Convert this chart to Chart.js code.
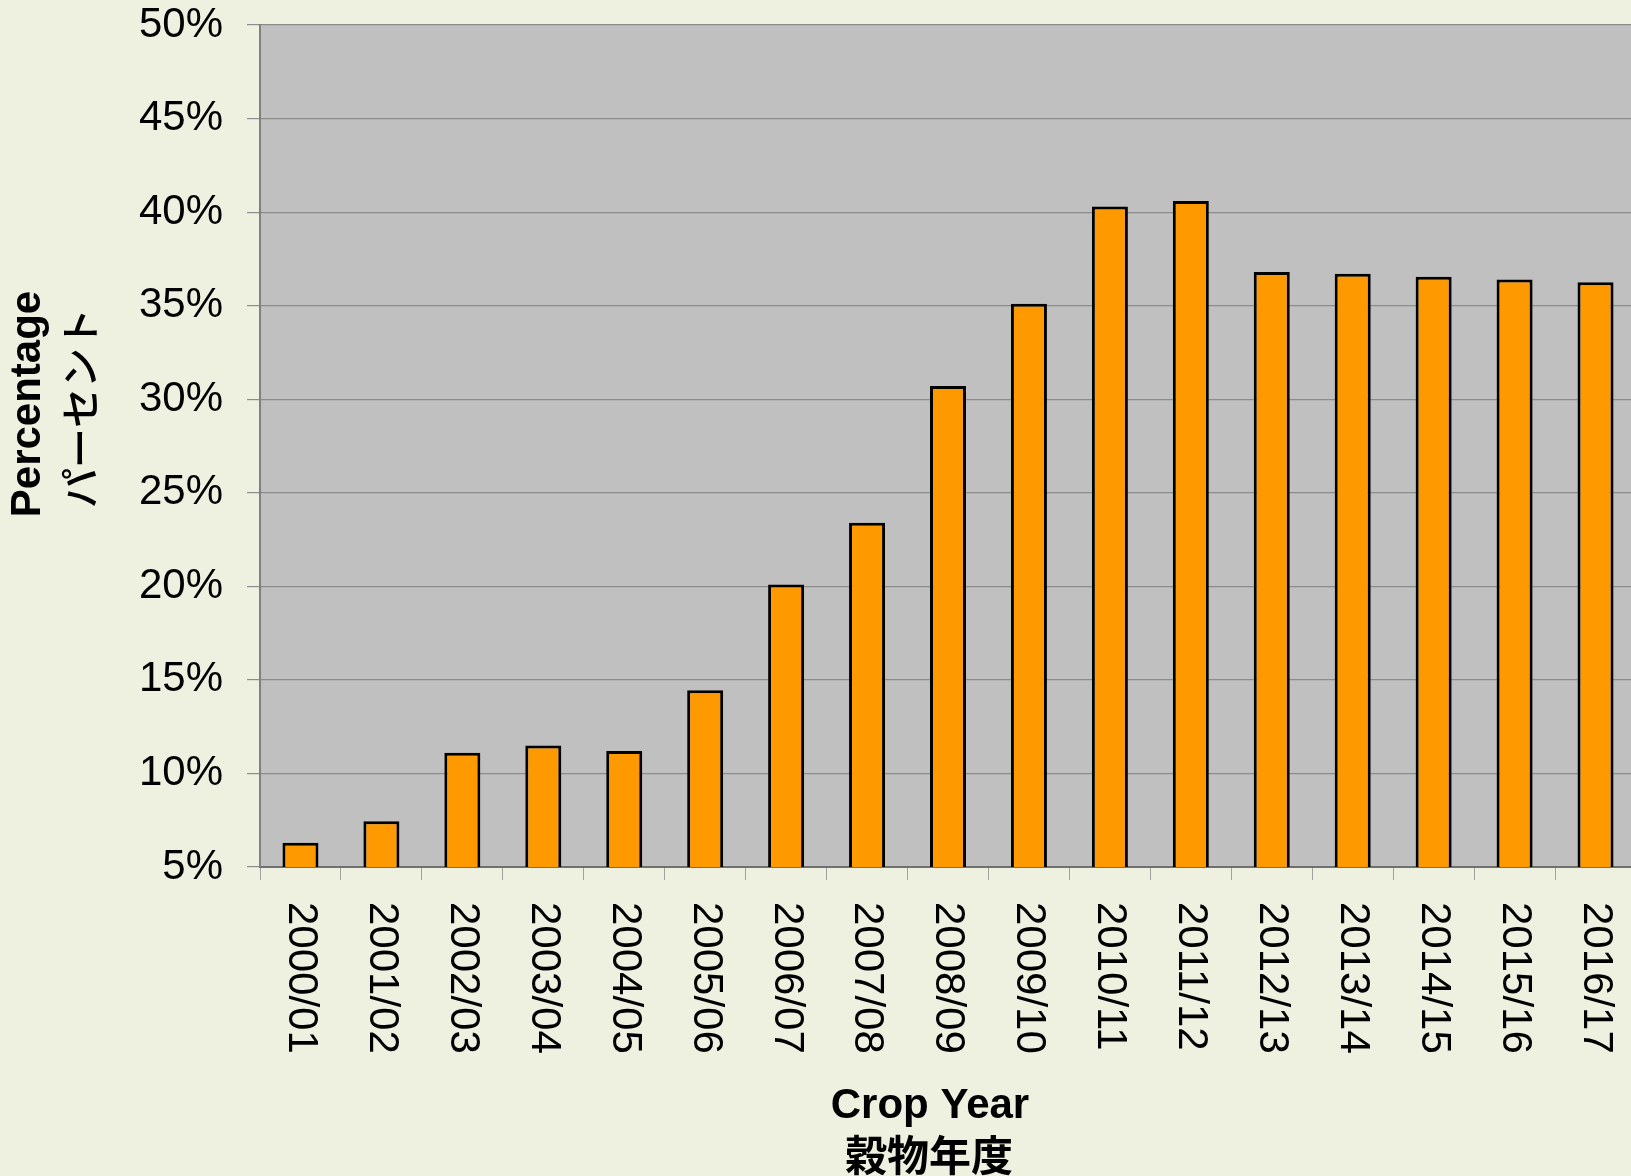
<!DOCTYPE html>
<html>
<head>
<meta charset="utf-8">
<script src="https://cdn.jsdelivr.net/npm/chart.js@4"></script>
<style>
  html, body { margin: 0; padding: 0; overflow: hidden; background: #EEF0E0; }
  canvas { display: block; }
</style>
</head>
<body>
<canvas id="myChart" width="1636" height="1176"></canvas>
<script>
const years = ["2000/01", "2001/02", "2002/03", "2003/04", "2004/05", "2005/06", "2006/07", "2007/08", "2008/09",
    "2009/10", "2010/11", "2011/12", "2012/13", "2013/14", "2014/15", "2015/16", "2016/17"];
const percentages = [6.3, 7.45, 11.1, 11.5, 11.2, 14.45, 20.1, 23.4, 30.7, 35.1, 40.3, 40.6, 36.8, 36.7, 36.55, 36.4, 36.25];
const yTicks = [5, 10, 15, 20, 25, 30, 35, 40, 45, 50];
const xTitle = ["Crop Year", "穀物年度"];
const yTitle = ["Percentage", "パーセント"];

const latin = "'Liberation Sans', Arial, sans-serif";
const cjk = "'Noto Sans CJK JP', sans-serif";

// fondo, etiquetas giradas y titulos
const extras = {
    id: "extras",
    beforeDraw(chart) {
        const { ctx, chartArea } = chart;
        ctx.save();
        ctx.fillStyle = "#EEF0E0";
        ctx.fillRect(0, 0, chart.width, chart.height);
        ctx.fillStyle = "#C0C0C0";
        ctx.fillRect(chartArea.left, chartArea.top, chartArea.right - chartArea.left, chartArea.bottom - chartArea.top);
        ctx.restore();
    },
    afterDraw(chart) {
        const { ctx } = chart;
        const x = chart.scales.x;
        ctx.save();
        ctx.fillStyle = "#000";

        ctx.font = "42px " + latin;
        ctx.textAlign = "left";
        ctx.textBaseline = "middle";
        years.forEach((label, i) => {
            ctx.save();
            ctx.translate(x.getPixelForValue(i), chart.chartArea.bottom + 35);
            ctx.rotate(Math.PI / 2);
            ctx.fillText(label, 0, 0);
            ctx.restore();
        });

        ctx.textAlign = "center";
        ctx.font = "bold 42px " + latin;
        ctx.textBaseline = "alphabetic";
        ctx.fillText(xTitle[0], 930, 1118);
        ctx.font = "bold 42px " + cjk;
        ctx.textBaseline = "middle";
        ctx.fillText(xTitle[1], 929, 1155);

        ctx.save();
        ctx.translate(28, 404);
        ctx.rotate(-Math.PI / 2);
        ctx.font = "bold 42px " + latin;
        ctx.fillText(yTitle[0], 0, 0);
        ctx.restore();

        ctx.save();
        ctx.translate(80, 408);
        ctx.rotate(-Math.PI / 2);
        ctx.font = "500 40px " + cjk;
        ctx.fillText(yTitle[1], 0, 0);
        ctx.restore();

        ctx.restore();
    }
};

const config = {
    type: "bar",
    data: {
        labels: years,
        datasets: [{
            data: percentages,
            backgroundColor: "#FF9900",
            borderColor: "#000000",
            borderWidth: 3,
            borderSkipped: false,
            barPercentage: 1,
            categoryPercentage: 0.445
        }]
    },
    options: {
        responsive: false,
        animation: false,
        devicePixelRatio: 1,
        layout: { padding: { left: 139, top: 25, right: 0, bottom: 0 } },
        plugins: {
            legend: { display: false },
            tooltip: { enabled: false }
        },
        scales: {
            x: {
                offset: true,
                ticks: { display: false },
                grid: {
                    offset: true,
                    drawOnChartArea: false,
                    drawTicks: true,
                    tickLength: 13,
                    tickColor: "#A0A0A0",
                    color: "#A0A0A0"
                },
                border: { color: "#707070", width: 2 },
                afterFit(scale) { scale.height = 309; }
            },
            y: {
                min: 5,
                max: 50,
                afterBuildTicks(scale) { scale.ticks = yTicks.map(v => ({ value: v })); },
                ticks: {
                    padding: 24,
                    color: "#000",
                    font: { family: latin, size: 42, lineHeight: 1 },
                    callback: v => v + "%"
                },
                grid: {
                    color: "#8C8C8C",
                    tickColor: "#8C8C8C",
                    tickLength: 13,
                    lineWidth: 1.2
                },
                border: { color: "#808080", width: 2 },
                afterFit(scale) {
                    scale.width = 121;
                    scale.paddingTop = 0;
                    scale.paddingBottom = 0;
                }
            }
        }
    },
    plugins: [extras]
};

new Chart(document.getElementById("myChart"), config);
</script>
</body>
</html>
